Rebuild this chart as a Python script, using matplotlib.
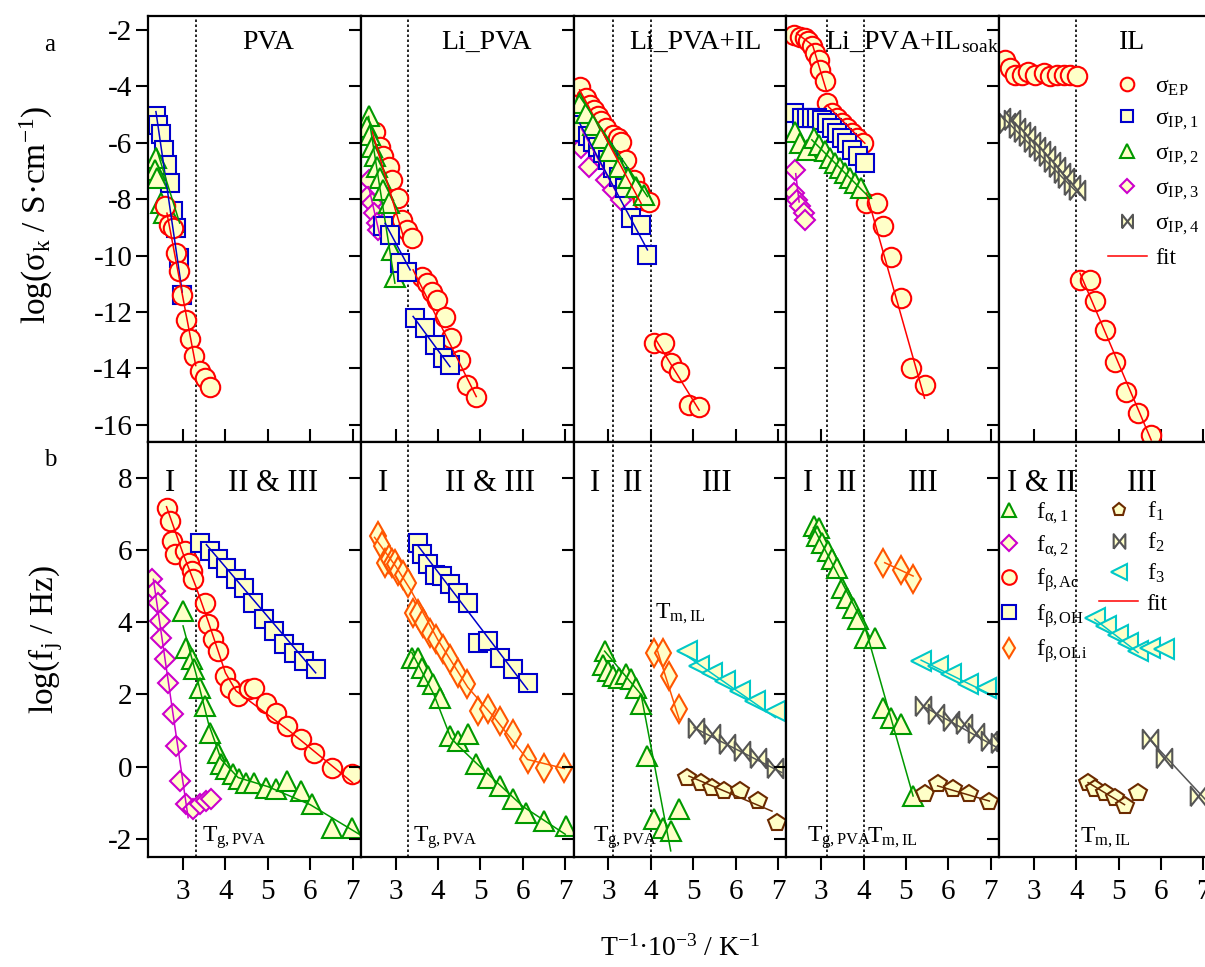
import numpy as np
import matplotlib.pyplot as plt
from matplotlib.lines import Line2D

plt.rcParams['font.family'] = ['Liberation Serif', 'DejaVu Serif']
plt.rcParams['mathtext.fontset'] = 'custom'
plt.rcParams['mathtext.rm'] = 'Liberation Serif'
plt.rcParams['mathtext.it'] = 'Liberation Serif:italic'
plt.rcParams['mathtext.bf'] = 'Liberation Serif:bold'
plt.rcParams['axes.unicode_minus'] = False
plt.rcParams['axes.linewidth'] = 1.6

nan = np.nan

# ---------------- (a) conductivities log(sigma) ----------------
# PVA
ep_pva_x = [2.57, 2.67, 2.77, 2.83, 2.90, 2.98, 3.08, 3.17, 3.26, 3.39, 3.51, 3.64]
ep_pva_y = [-8.26, -8.91, -9.03, -9.92, -10.55, -11.40, -12.28, -12.97, -13.56, -14.09, -14.35, -14.67]
ep_pva_fx = [2.62, 3.30]
ep_pva_fy = [-8.5, -13.9]
ip1_pva_x = [2.36, 2.41, 2.47, 2.55, 2.61, 2.69, 2.77, 2.83, 2.91, 2.98]
ip1_pva_y = [-5.05, -5.37, -5.69, -6.26, -6.79, -7.44, -8.44, -9.03, -10.10, -11.40]
ip1_pva_fx = [2.36, 2.98]
ip1_pva_fy = [-4.9, -11.3]
ip2_pva_x = [2.37, 2.33, 2.39, 2.49, 2.55, 2.77]
ip2_pva_y = [-6.55, -6.96, -7.26, -8.15, -8.50, -8.80]
ip2_pva_fx = [2.37, 2.92]
ip2_pva_fy = [-6.2, -8.85]

# Li_PVA
ep_lipva_x = [2.33, 2.51, 2.63, 2.71, 2.83, 2.91, 3.06, 3.14, 3.26, 3.38, 3.61, 3.73, 3.85,
              3.98, 4.16, 4.31, 4.51, 4.67, 4.90]
ep_lipva_y = [-5.70, -5.61, -6.14, -6.49, -6.85, -7.32, -7.97, -8.74, -9.09, -9.39, -10.75, -10.98,
              -11.28, -11.57, -12.17, -12.94, -13.70, -14.59, -15.00]
ep_lipva_fx = [2.44, 3.18, nan, 3.41, 4.90]
ep_lipva_fy = [-5.6, -9.33, nan, -10.51, -15.0]
ip1_lipva_x = [2.71, 2.87, 3.10, 3.26, 3.45, 3.69, 3.92, 4.12, 4.28]
ip1_lipva_y = [-8.97, -9.27, -10.27, -10.57, -12.22, -12.58, -13.17, -13.64, -13.88]
ip1_lipva_fx = [2.75, 3.34, nan, 3.41, 4.28]
ip1_lipva_fy = [-8.86, -10.51, nan, -12.16, -13.94]
ip2_lipva_x = [2.36, 2.32, 2.40, 2.44, 2.51, 2.55, 2.63, 2.71, 2.83, 2.91, 2.98]
ip2_lipva_y = [-5.07, -5.43, -5.72, -6.14, -6.49, -6.85, -7.26, -7.67, -8.15, -9.80, -10.75]
ip2_lipva_fx = [2.36, 2.98]
ip2_lipva_fy = [-5.07, -10.98]
ip3_lipva_x = [2.36, 2.32, 2.44, 2.48, 2.55, 2.59]
ip3_lipva_y = [-7.32, -7.91, -8.15, -8.50, -8.86, -9.09]
ip3_lipva_fx = [2.36, 2.63]
ip3_lipva_fy = [-7.56, -9.33]

# Li_PVA+IL
ep_il1_x = [2.32, 2.48, 2.57, 2.67, 2.75, 2.83, 2.95, 3.10, 3.22, 3.30, 3.41, 3.61, 3.73, 3.81,
            3.96, 4.08, 4.31, 4.47, 4.67, 4.90, 5.14]
ep_il1_y = [-4.01, -4.42, -4.66, -4.84, -5.07, -5.25, -5.49, -5.72, -5.84, -5.96, -6.61, -7.32,
            -7.73, -8.03, -8.09, -13.11, -13.11, -13.82, -14.12, -15.30, -15.36]
ep_il1_fx = [2.32, 3.77, nan, 4.12, 5.14]
ep_il1_fy = [-4.13, -8.15, nan, -12.99, -15.48]
ip1_il1_x = [2.32, 2.40, 2.51, 2.63, 2.75, 2.87, 2.98, 3.10, 3.26, 3.38, 3.53, 3.77, 3.92]
ip1_il1_y = [-5.37, -5.61, -5.78, -5.96, -6.14, -6.37, -6.61, -6.91, -7.20, -7.61, -8.68, -8.91, -9.98]
ip1_il1_fx = [2.32, 3.92]
ip1_il1_fy = [-5.31, -9.80]
ip2_il1_x = [2.32, 2.48, 2.63, 2.83, 3.02, 3.26, 3.45, 3.65, 3.85]
ip2_il1_y = [-4.60, -4.96, -5.37, -5.84, -6.31, -6.85, -7.26, -7.56, -7.85]
ip2_il1_fx = [2.32, 3.92]
ip2_il1_fy = [-4.36, -7.91]
ip3_il1_x = [2.36, 2.55, 2.79, 2.95, 3.10, 3.30]
ip3_il1_y = [-6.20, -6.85, -6.55, -7.32, -7.67, -8.03]
ip3_il1_fx = [2.36, 3.20]
ip3_il1_fy = [-5.5, -7.8]

# Li_PVA+IL soak
ep_soak_x = [2.35, 2.51, 2.62, 2.70, 2.78, 2.86, 2.94, 2.98, 3.09, 3.13, 3.25, 3.37, 3.49, 3.60,
             3.72, 3.84, 3.99, 4.07, 4.31, 4.46, 4.66, 4.89, 5.13, 5.44]
ep_soak_y = [-2.18, -2.24, -2.30, -2.41, -2.59, -2.83, -3.06, -3.42, -3.83, -4.60, -4.96, -5.13,
             -5.31, -5.49, -5.66, -5.84, -6.02, -8.15, -8.15, -8.97, -10.04, -11.52, -14.00, -14.59]
ep_soak_fx = [2.42, 2.80, 3.13, nan, 3.17, 4.03, nan, 4.07, 5.44]
ep_soak_fy = [-2.12, -2.55, -4.18, nan, -4.72, -6.02, nan, -7.79, -15.06]
ip1_soak_x = [2.35, 2.55, 2.66, 2.78, 2.90, 3.02, 3.13, 3.25, 3.37, 3.49, 3.60, 3.72, 3.88, 4.03]
ip1_soak_y = [-4.96, -5.13, -5.13, -5.13, -5.13, -5.19, -5.31, -5.49, -5.66, -5.84, -6.02, -6.26,
              -6.49, -6.73]
ip2_soak_x = [2.39, 2.51, 2.66, 2.82, 2.94, 3.09, 3.21, 3.33, 3.45, 3.56, 3.68, 3.80, 3.95]
ip2_soak_y = [-5.61, -6.02, -6.26, -5.84, -6.08, -6.31, -6.55, -6.73, -6.91, -7.08, -7.26, -7.44, -7.61]
ip2_soak_fx = [2.78, 4.15]
ip2_soak_fy = [-5.90, -7.96]
ip3_soak_x = [2.39, 2.35, 2.43, 2.51, 2.59, 2.62]
ip3_soak_y = [-6.96, -7.79, -8.03, -8.26, -8.50, -8.74]
ip3_soak_fx = [2.40, 2.48]
ip3_soak_fy = [-7.1, -8.1]

# IL
ep_il_x = [2.33, 2.44, 2.56, 2.72, 2.87, 3.03, 3.23, 3.38, 3.54, 3.70, 3.85, 4.01,
           4.09, 4.32, 4.44, 4.67, 4.91, 5.18, 5.46, 5.77]
ep_il_y = [-3.06, -3.36, -3.60, -3.60, -3.48, -3.60, -3.54, -3.65, -3.60, -3.60, -3.60, -3.65,
           -10.87, -10.87, -11.63, -12.64, -13.76, -14.83, -15.59, -16.36]
ep_il_fx = [4.09, 5.77]
ep_il_fy = [-10.63, -16.54]
ip4_il_x = [2.25, 2.37, 2.48, 2.60, 2.72, 2.84, 2.95, 3.07, 3.19, 3.31, 3.42, 3.54, 3.66, 3.77, 3.89, 4.01]
ip4_il_y = [-5.13, -5.31, -5.19, -5.49, -5.61, -5.78, -5.96, -6.14, -6.31, -6.49, -6.67, -6.85,
            -7.08, -7.26, -7.50, -7.67]
ip4_il_fx = [2.25, 4.00]
ip4_il_fy = [-5.07, -7.73]

# ---------------- (b) relaxation frequencies log(f) ----------------
# PVA
fbac_pva_x = [2.61, 2.69, 2.73, 2.80, 3.04, 3.14, 3.20, 3.23, 3.51, 3.59, 3.70, 3.82, 3.98, 4.10,
              4.29, 4.56, 4.68, 4.96, 5.19, 5.46, 5.78, 6.09, 6.52, 6.99]
fbac_pva_y = [7.17, 6.80, 6.25, 5.88, 5.97, 5.65, 5.42, 5.19, 4.54, 3.94, 3.53, 3.20, 2.51, 2.19,
              1.96, 2.14, 2.19, 1.77, 1.50, 1.13, 0.76, 0.39, -0.03, -0.21]
fbac_pva_fx = [2.61, 3.0, 3.3, 3.6, 4.0, 4.25, 5.5, 7.0]
fbac_pva_fy = [7.2, 5.9, 5.0, 4.0, 2.6, 2.1, 1.0, -0.44]
fboh_pva_x = [3.39, 3.63, 3.82, 4.02, 4.25, 4.45, 4.64, 4.92, 5.15, 5.39, 5.62, 5.86, 6.13]
fboh_pva_y = [6.20, 5.97, 5.74, 5.51, 5.19, 4.96, 4.54, 4.08, 3.76, 3.39, 3.16, 2.93, 2.70]
fboh_pva_fx = [3.55, 6.13]
fboh_pva_fy = [6.15, 2.60]
fa2_pva_x = [2.26, 2.33, 2.41, 2.45, 2.49, 2.57, 2.65, 2.77, 2.84, 2.92, 3.08, 3.23, 3.39, 3.55, 3.67]
fa2_pva_y = [5.19, 4.86, 4.54, 4.03, 3.57, 2.97, 2.33, 1.45, 0.57, -0.39, -1.04, -1.18, -1.04, -0.95, -0.90]
fa2_pva_fx = [2.30, 3.12]
fa2_pva_fy = [5.19, -1.41]
fa1_pva_x = [3.00, 3.08, 3.20, 3.27, 3.39, 3.51, 3.63, 3.82, 3.90, 4.02, 4.17, 4.33, 4.49, 4.68,
             4.96, 5.19, 5.46, 5.78, 6.05, 6.52, 6.99]
fa1_pva_y = [4.31, 3.30, 2.97, 2.70, 2.19, 1.68, 0.94, 0.39, 0.07, -0.07, -0.21, -0.35, -0.44,
             -0.44, -0.58, -0.63, -0.39, -0.67, -1.04, -1.69, -1.69]
fa1_pva_fx = [3.0, 3.3, 3.6, 3.9, 4.3, 5.0, 6.0, 7.2]
fa1_pva_fy = [3.9, 2.6, 1.2, 0.2, -0.3, -0.55, -1.05, -1.9]

# Li_PVA
fboli_lipva_x = [2.59, 2.67, 2.75, 2.83, 2.91, 2.98, 3.06, 3.18, 3.30, 3.41, 3.53, 3.65, 3.81,
                 3.96, 4.12, 4.27, 4.47, 4.67, 4.94, 5.18, 5.45, 5.76, 6.11, 6.51, 6.98]
fboli_lipva_y = [6.39, 6.11, 5.65, 5.74, 5.65, 5.60, 5.42, 5.32, 5.09, 4.26, 4.22, 3.99, 3.71,
                 3.53, 3.25, 2.97, 2.60, 2.28, 1.54, 1.59, 1.27, 0.90, 0.20, -0.03, -0.03]
fboli_lipva_fx = [2.5, 3.0, 3.35, 4.0, 4.7, 5.3, 6.11, 6.98]
fboli_lipva_fy = [6.35, 5.55, 4.9, 3.5, 2.2, 1.4, 0.2, -0.05]
fboh_lipva_x = [3.53, 3.61, 3.77, 3.92, 4.08, 4.28, 4.47, 4.71, 4.94, 5.18, 5.45, 5.76, 6.11]
fboh_lipva_y = [6.20, 5.88, 5.60, 5.32, 5.28, 5.05, 4.82, 4.54, 3.43, 3.48, 3.02, 2.70, 2.33]
fboh_lipva_fx = [3.53, 6.11]
fboh_lipva_fy = [6.11, 2.14]
fa1_lipva_x = [3.38, 3.53, 3.61, 3.77, 3.88, 4.04, 4.27, 4.47, 4.71, 4.90, 5.18, 5.45, 5.76, 6.08, 6.51, 7.01]
fa1_lipva_y = [3.02, 3.02, 2.74, 2.51, 2.28, 1.91, 0.85, 0.71, 0.90, 0.07, -0.30, -0.53, -0.90,
               -1.27, -1.50, -1.64]
fa1_lipva_fx = [3.38, 3.9, 4.3, 4.5, 4.9, 6.0, 7.0]
fa1_lipva_fy = [3.16, 2.0, 0.8, 0.55, 0.1, -1.1, -1.87]

# Li_PVA+IL
fa1_il1_x = [2.91, 2.87, 2.98, 3.10, 3.26, 3.41, 3.53, 3.65, 3.77, 3.92, 4.08, 4.28, 4.47, 4.67]
fa1_il1_y = [3.20, 2.83, 2.65, 2.51, 2.46, 2.56, 2.42, 2.19, 1.73, 0.30, -1.46, -1.69, -1.78, -1.18]
fa1_il1_fx = [2.91, 3.77, 4.47]
fa1_il1_fy = [3.2, 2.0, -2.33]
fboli_il1_x = [4.08, 4.28, 4.43, 4.67]
fboli_il1_y = [3.16, 3.16, 2.51, 1.59]
fboli_il1_fx = [4.16, 4.67]
fboli_il1_fy = [3.2, 1.31]
f3_il1_x = [4.86, 5.14, 5.45, 5.76, 6.11, 6.46, 6.94]
f3_il1_y = [3.20, 2.79, 2.60, 2.37, 2.10, 1.82, 1.54]
f3_il1_fx = [4.86, 6.94]
f3_il1_fy = [3.06, 1.36]
f2_il1_x = [5.06, 5.45, 5.80, 6.15, 6.54, 6.94]
f2_il1_y = [1.08, 0.90, 0.62, 0.44, 0.25, -0.03]
f2_il1_fx = [5.02, 7.09]
f2_il1_fy = [1.08, -0.16]
f1_il1_x = [4.86, 5.18, 5.45, 5.72, 6.11, 6.54, 6.97]
f1_il1_y = [-0.30, -0.44, -0.58, -0.67, -0.67, -0.95, -1.55]
f1_il1_fx = [4.90, 6.86]
f1_il1_fy = [-0.26, -1.23]

# Li_PVA+IL soak
fa1_soak_x = [2.82, 2.94, 2.90, 3.02, 3.17, 3.25, 3.37, 3.49, 3.60, 3.76, 3.88, 4.03, 4.27,
              4.46, 4.66, 4.89, 5.17]
fa1_soak_y = [6.66, 6.62, 6.39, 6.20, 5.97, 5.74, 5.51, 4.96, 4.68, 4.40, 4.08, 3.57, 3.57,
              1.63, 1.36, 1.17, -0.81]
fa1_soak_fx = [2.82, 4.03, 5.17]
fa1_soak_fy = [6.62, 3.89, -0.81]
fboli_soak_x = [4.46, 4.89, 5.17]
fboli_soak_y = [5.65, 5.46, 5.19]
fboli_soak_fx = [4.50, 5.17]
fboli_soak_fy = [5.65, 5.28]
f3_soak_x = [5.36, 5.75, 6.07, 6.46, 6.89]
f3_soak_y = [2.93, 2.79, 2.56, 2.28, 2.19]
f3_soak_fx = [5.36, 7.0]
f3_soak_fy = [2.95, 2.0]
f2_soak_x = [5.40, 5.72, 6.07, 6.38, 6.65, 6.97, 7.20]
f2_soak_y = [1.68, 1.45, 1.27, 1.17, 0.94, 0.71, 0.66]
f2_soak_fx = [5.40, 7.2]
f2_soak_fy = [1.68, 0.5]
f1_soak_x = [5.44, 5.75, 6.11, 6.50, 6.97]
f1_soak_y = [-0.76, -0.49, -0.63, -0.76, -0.99]
f1_soak_fx = [5.75, 6.97]
f1_soak_fy = [-0.53, -0.95]

# IL
f3_il_x = [4.44, 4.71, 4.99, 5.22, 5.46, 5.73, 6.08]
f3_il_y = [4.13, 3.89, 3.66, 3.43, 3.20, 3.30, 3.25]
f3_il_fx = [4.44, 5.46]
f3_il_fy = [4.08, 3.16]
f2_il_x = [5.73, 6.08, 6.87]
f2_il_y = [0.76, 0.25, -0.81]
f2_il_fx = [5.73, 7.2]
f2_il_fy = [0.76, -1.1]
f1_il_x = [4.28, 4.44, 4.67, 4.91, 5.14, 5.46]
f1_il_y = [-0.44, -0.63, -0.72, -0.86, -1.09, -0.72]
f1_il_fx = [4.28, 5.14]
f1_il_fy = [-0.44, -1.05]

sample_titles = ['PVA', 'Li_PVA', 'Li_PVA+IL', 'Li_PVA+IL$_{\\mathrm{soak}}$', 'IL']
transition_x = [[3.3], [3.3], [3.1, 4.0], [3.15, 4.0], [4.0]]
x_ticks = [3, 4, 5, 6, 7]
top_yticks = [-16, -14, -12, -10, -8, -6, -4, -2]
bot_yticks = [-2, 0, 2, 4, 6, 8]

# ---------------- styles ----------------
FILL = '#FFFFC8'
BOWTIE = [(-0.8, -1), (-0.8, 1), (0.8, -1), (0.8, 1), (-0.8, -1)]
styles = {
    'ep': ('o', '#FF0000', 14),
    'ip1': ('s', '#0000CC', 13),
    'ip2': ('^', '#009900', 14),
    'ip3': ('D', '#CC00CC', 10.5),
    'ip4': (BOWTIE, '#555555', 14),
    'fa1': ('^', '#009900', 14),
    'fa2': ('D', '#CC00CC', 10.5),
    'fbac': ('o', '#FF0000', 14),
    'fboh': ('s', '#0000CC', 13),
    'fboli': ('d', '#FF5500', 14),
    'f1': ('p', '#6B2A00', 13),
    'f2': (BOWTIE, '#555555', 14),
    'f3': ('<', '#00C8C8', 15),
}

top_series = [
    [('ip1', ip1_pva_x, ip1_pva_y, ip1_pva_fx, ip1_pva_fy),
     ('ip2', ip2_pva_x, ip2_pva_y, ip2_pva_fx, ip2_pva_fy),
     ('ep', ep_pva_x, ep_pva_y, ep_pva_fx, ep_pva_fy)],
    [('ep', ep_lipva_x, ep_lipva_y, ep_lipva_fx, ep_lipva_fy),
     ('ip3', ip3_lipva_x, ip3_lipva_y, ip3_lipva_fx, ip3_lipva_fy),
     ('ip2', ip2_lipva_x, ip2_lipva_y, ip2_lipva_fx, ip2_lipva_fy),
     ('ip1', ip1_lipva_x, ip1_lipva_y, ip1_lipva_fx, ip1_lipva_fy)],
    [('ep', ep_il1_x, ep_il1_y, ep_il1_fx, ep_il1_fy),
     ('ip3', ip3_il1_x, ip3_il1_y, ip3_il1_fx, ip3_il1_fy),
     ('ip1', ip1_il1_x, ip1_il1_y, ip1_il1_fx, ip1_il1_fy),
     ('ip2', ip2_il1_x, ip2_il1_y, ip2_il1_fx, ip2_il1_fy)],
    [('ep', ep_soak_x, ep_soak_y, ep_soak_fx, ep_soak_fy),
     ('ip1', ip1_soak_x, ip1_soak_y, None, None),
     ('ip3', ip3_soak_x, ip3_soak_y, ip3_soak_fx, ip3_soak_fy),
     ('ip2', ip2_soak_x, ip2_soak_y, ip2_soak_fx, ip2_soak_fy)],
    [('ep', ep_il_x, ep_il_y, ep_il_fx, ep_il_fy),
     ('ip4', ip4_il_x, ip4_il_y, ip4_il_fx, ip4_il_fy)],
]
bot_series = [
    [('fa2', fa2_pva_x, fa2_pva_y, fa2_pva_fx, fa2_pva_fy),
     ('fa1', fa1_pva_x, fa1_pva_y, fa1_pva_fx, fa1_pva_fy),
     ('fbac', fbac_pva_x, fbac_pva_y, fbac_pva_fx, fbac_pva_fy),
     ('fboh', fboh_pva_x, fboh_pva_y, fboh_pva_fx, fboh_pva_fy)],
    [('fboli', fboli_lipva_x, fboli_lipva_y, fboli_lipva_fx, fboli_lipva_fy),
     ('fboh', fboh_lipva_x, fboh_lipva_y, fboh_lipva_fx, fboh_lipva_fy),
     ('fa1', fa1_lipva_x, fa1_lipva_y, fa1_lipva_fx, fa1_lipva_fy)],
    [('fa1', fa1_il1_x, fa1_il1_y, fa1_il1_fx, fa1_il1_fy),
     ('fboli', fboli_il1_x, fboli_il1_y, fboli_il1_fx, fboli_il1_fy),
     ('f3', f3_il1_x, f3_il1_y, f3_il1_fx, f3_il1_fy),
     ('f2', f2_il1_x, f2_il1_y, f2_il1_fx, f2_il1_fy),
     ('f1', f1_il1_x, f1_il1_y, f1_il1_fx, f1_il1_fy)],
    [('fa1', fa1_soak_x, fa1_soak_y, fa1_soak_fx, fa1_soak_fy),
     ('fboli', fboli_soak_x, fboli_soak_y, fboli_soak_fx, fboli_soak_fy),
     ('f3', f3_soak_x, f3_soak_y, f3_soak_fx, f3_soak_fy),
     ('f2', f2_soak_x, f2_soak_y, f2_soak_fx, f2_soak_fy),
     ('f1', f1_soak_x, f1_soak_y, f1_soak_fx, f1_soak_fy)],
    [('f3', f3_il_x, f3_il_y, f3_il_fx, f3_il_fy),
     ('f2', f2_il_x, f2_il_y, f2_il_fx, f2_il_fy),
     ('f1', f1_il_x, f1_il_y, f1_il_fx, f1_il_fy)],
]

# region labels (text, x in axes fraction)
region_labels = [
    [('I', 0.102), ('II & III', 0.586)],
    [('I', 0.103), ('II & III', 0.607)],
    [('I', 0.100), ('II', 0.279), ('III', 0.674)],
    [('I', 0.102), ('II', 0.285), ('III', 0.642)],
    [('I & II', 0.202), ('III', 0.672)],
]
temp_labels = [
    [('T$_{\\mathrm{g,PVA}}$', 0.251, 0.036)],
    [('T$_{\\mathrm{g,PVA}}$', 0.244, 0.036)],
    [('T$_{\\mathrm{g,PVA}}$', 0.091, 0.036), ('T$_{\\mathrm{m,IL}}$', 0.382, 0.575)],
    [('T$_{\\mathrm{g,PVA}}$', 0.097, 0.036), ('T$_{\\mathrm{m,IL}}$', 0.379, 0.036)],
    [('T$_{\\mathrm{m,IL}}$', 0.381, 0.036)],
]
title_pos = [(0.563, 'center'), (0.592, 'center'), (0.570, 'center'), (0.18, 'left'), (0.625, 'center')]


def draw(ax, series):
    for key, x, y, fx, fy in series:
        m, c, ms = styles[key]
        ax.plot(x, y, ls='none', marker=m, ms=ms, mec=c, mfc=FILL, mew=1.5, zorder=2)
    for key, x, y, fx, fy in series:
        if fx is not None:
            ax.plot(fx, fy, color=styles[key][1], lw=1.1, zorder=3)


W, H = 1205, 967
X0, PW = 148.3, 212.7
fig = plt.figure(figsize=(W / 100, H / 100), dpi=100)

for i in range(5):
    l = (X0 + i * PW) / W
    axt = fig.add_axes([l, 1 - 441.7 / H, PW / W, 426 / H])
    axb = fig.add_axes([l, 1 - 857 / H, PW / W, 415.3 / H])
    draw(axt, top_series[i])
    draw(axb, bot_series[i])
    for ax in (axt, axb):
        ax.set_xlim(2.18, 7.2)
        ax.set_xticks(x_ticks)
        for xv in transition_x[i]:
            ax.axvline(xv, color='k', ls=(0, (1.5, 1.5)), lw=1.2, zorder=1)
        ax.tick_params(axis='y', which='both', left=True, right=False, direction='out',
                       length=8.5, width=1.5, labelsize=21, labelleft=(i == 0), pad=3)
    axt.set_ylim(-16.6, -1.5)
    axt.set_yticks(top_yticks)
    axb.set_ylim(-2.5, 9.0)
    axb.set_yticks(bot_yticks)
    axt.tick_params(axis='x', direction='in', length=9.5, width=1.5, labelbottom=False)
    axb.tick_params(axis='x', direction='out', length=9.5, width=1.5, labelsize=21, pad=6)

    tx, ha = title_pos[i]
    axt.text(tx, 0.938, sample_titles[i], transform=axt.transAxes, ha=ha, va='center', fontsize=20)
    for txt, fx_ in region_labels[i]:
        axb.text(fx_, 0.90, txt, transform=axb.transAxes, ha='center', va='center', fontsize=22)
    for txt, fx_, fy_ in temp_labels[i]:
        axb.text(fx_, fy_, txt, transform=axb.transAxes, ha='left', va='baseline', fontsize=17)

    if i == 4:
        keys = ['ep', 'ip1', 'ip2', 'ip3', 'ip4']
        labels = ['σ$_{\\mathrm{EP}}$', 'σ$_{\\mathrm{IP,1}}$', 'σ$_{\\mathrm{IP,2}}$',
                  'σ$_{\\mathrm{IP,3}}$', 'σ$_{\\mathrm{IP,4}}$', 'fit']
        handles = [Line2D([], [], ls='none', marker=styles[k][0], ms=styles[k][2], mec=styles[k][1],
                          mfc=FILL, mew=1.5) for k in keys]
        handles.append(Line2D([], [], color='#FF0000', lw=1.1))
        axt.legend(handles, labels, loc='upper left', bbox_to_anchor=(0.512, 0.859), frameon=False,
                   fontsize=17, markerscale=0.7, handlelength=1.65, handletextpad=0.35,
                   labelspacing=0.45, borderpad=0, borderaxespad=0)
        keys = ['fa1', 'fa2', 'fbac', 'fboh', 'fboli', 'f1', 'f2', 'f3']
        labels = ['f$_{\\mathrm{α,1}}$', 'f$_{\\mathrm{α,2}}$', 'f$_{\\mathrm{β,Ac}}$',
                  'f$_{\\mathrm{β,OH}}$', 'f$_{\\mathrm{β,OLi}}$', 'f$_{\\mathrm{1}}$',
                  'f$_{\\mathrm{2}}$', 'f$_{\\mathrm{3}}$', 'fit']
        handles = [Line2D([], [], ls='none', marker=styles[k][0], ms=styles[k][2], mec=styles[k][1],
                          mfc=FILL, mew=1.5) for k in keys]
        handles.append(Line2D([], [], color='#FF0000', lw=1.1))
        axb.legend(handles, labels, loc='upper left', bbox_to_anchor=(-0.047, 0.860), frameon=False,
                   fontsize=17, markerscale=0.75, handlelength=1.65, handletextpad=0.35, ncol=2,
                   columnspacing=0.5, labelspacing=0.33, borderpad=0, borderaxespad=0)

fig.text(36 / W, 1 - 215 / H, 'log(σ$_{\\mathrm{k}}$ / S·cm$^{\\mathrm{-1}}$)', rotation=90,
         ha='center', va='center', fontsize=24)
fig.text(46 / W, 1 - 640 / H, 'log(f$_{\\mathrm{j}}$ / Hz)', rotation=90,
         ha='center', va='center', fontsize=24)
fig.text(50 / W, 1 - 45 / H, 'a', ha='center', va='center', fontsize=18)
fig.text(50 / W, 1 - 460 / H, 'b', ha='center', va='center', fontsize=18)
fig.text(680 / W, 1 - 948 / H, 'T$^{\\mathrm{-1}}$·10$^{\\mathrm{-3}}$ / K$^{\\mathrm{-1}}$',
         ha='center', va='center', fontsize=20)

fig.savefig('out.png', dpi=100)
